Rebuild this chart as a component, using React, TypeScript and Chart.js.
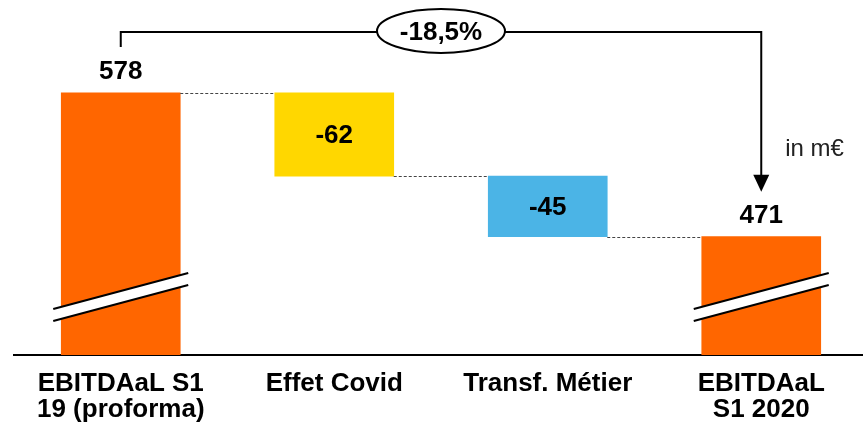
import React, { useEffect, useRef } from 'react';
import { Chart, registerables } from 'chart.js';

Chart.register(...registerables);

// ---- data ----
const categories: string[][] = [
  ['EBITDAaL S1', '19 (proforma)'],
  ['Effet Covid'],
  ['Transf. Métier'],
  ['EBITDAaL', 'S1 2020'],
];
const startValue = 578;
const deltas = [-62, -45];
const endValue = 471;
const axisMin = 383; // broken axis baseline
const axisMax = 647;
const barColors = ['#FF6600', '#FFD700', '#4BB4E6', '#FF6600'];
const unitLabel = 'in m€';

// ---- derived ----
const floating: number[][] = [];
const valueLabels: string[] = [];
const levels: number[] = [];
floating.push([axisMin, startValue]);
valueLabels.push(String(startValue));
levels.push(startValue);
let running = startValue;
deltas.forEach((d) => {
  const next = running + d;
  floating.push([Math.min(running, next), Math.max(running, next)]);
  valueLabels.push((d > 0 ? '+' : '') + String(d));
  running = next;
  levels.push(next);
});
floating.push([axisMin, endValue]);
valueLabels.push(String(endValue));
const pctText =
  (((endValue - startValue) / startValue) * 100).toFixed(1).replace('.', ',') + '%';

const FONT = "'Liberation Sans', Arial, Helvetica, sans-serif";

const overlayPlugin = {
  id: 'waterfallOverlay',
  afterDatasetsDraw(chart: any) {
    const ctx = chart.ctx as CanvasRenderingContext2D;
    const meta = chart.getDatasetMeta(0);
    const bars = meta.data as any[];
    const base = chart.chartArea.bottom;
    ctx.save();

    // dashed connectors
    ctx.strokeStyle = '#444';
    ctx.lineWidth = 1;
    ctx.setLineDash([3, 2]);
    for (let i = 0; i < bars.length - 1; i++) {
      const a = bars[i].getProps(['x', 'width'], true);
      const b = bars[i + 1].getProps(['x', 'width'], true);
      const y = Math.round(chart.scales.y.getPixelForValue(levels[i])) + 0.5;
      ctx.beginPath();
      ctx.moveTo(a.x + a.width / 2, y);
      ctx.lineTo(b.x - b.width / 2, y);
      ctx.stroke();
    }
    ctx.setLineDash([]);

    // axis break marks on total bars
    [0, bars.length - 1].forEach((i) => {
      const p = bars[i].getProps(['x', 'width'], true);
      const L = p.x - p.width / 2 - 8;
      const R = p.x + p.width / 2 + 8;
      ctx.fillStyle = '#fff';
      ctx.beginPath();
      ctx.moveTo(L, base - 46);
      ctx.lineTo(R, base - 82);
      ctx.lineTo(R, base - 70);
      ctx.lineTo(L, base - 34);
      ctx.closePath();
      ctx.fill();
      ctx.strokeStyle = '#000';
      ctx.lineWidth = 2;
      ctx.beginPath();
      ctx.moveTo(L, base - 46);
      ctx.lineTo(R, base - 82);
      ctx.moveTo(L, base - 34);
      ctx.lineTo(R, base - 70);
      ctx.stroke();
    });

    // value labels
    ctx.fillStyle = '#000';
    ctx.font = `bold 26px ${FONT}`;
    ctx.textAlign = 'center';
    ctx.textBaseline = 'middle';
    bars.forEach((bar, i) => {
      const p = bar.getProps(['x', 'y', 'base'], true);
      const top = Math.min(p.y, p.base);
      const bottom = Math.max(p.y, p.base);
      if (i === 0 || i === bars.length - 1) {
        ctx.fillText(valueLabels[i], p.x, top - 21);
      } else {
        ctx.fillText(valueLabels[i], p.x, (top + bottom) / 2 + 1);
      }
    });

    // bracket with arrow
    const first = bars[0].getProps(['x', 'y'], true);
    const last = bars[bars.length - 1].getProps(['x', 'y'], true);
    const by = 32;
    ctx.strokeStyle = '#000';
    ctx.lineWidth = 2;
    ctx.beginPath();
    ctx.moveTo(first.x, 47);
    ctx.lineTo(first.x, by);
    ctx.lineTo(last.x, by);
    ctx.lineTo(last.x, last.y - 60);
    ctx.stroke();
    ctx.fillStyle = '#000';
    ctx.beginPath();
    ctx.moveTo(last.x - 8, last.y - 62);
    ctx.lineTo(last.x + 8, last.y - 62);
    ctx.lineTo(last.x, last.y - 45);
    ctx.closePath();
    ctx.fill();

    // ellipse with percentage
    const cx = (first.x + last.x) / 2;
    ctx.beginPath();
    ctx.ellipse(cx, 31, 64, 22, 0, 0, Math.PI * 2);
    ctx.fillStyle = '#fff';
    ctx.fill();
    ctx.lineWidth = 2;
    ctx.strokeStyle = '#000';
    ctx.stroke();
    ctx.fillStyle = '#000';
    ctx.font = `bold 26px ${FONT}`;
    ctx.textAlign = 'center';
    ctx.textBaseline = 'middle';
    ctx.fillText(pctText, cx, 33);

    // unit label
    ctx.font = `24px ${FONT}`;
    ctx.fillStyle = '#222';
    ctx.textAlign = 'left';
    ctx.fillText(unitLabel, last.x + 24, 149);

    ctx.restore();
  },
};

export default function App() {
  const canvasRef = useRef<HTMLCanvasElement | null>(null);

  useEffect(() => {
    if (!canvasRef.current) return;
    const chart = new Chart(canvasRef.current, {
      type: 'bar',
      data: {
        labels: categories,
        datasets: [
          {
            data: floating as any,
            backgroundColor: barColors,
            borderWidth: 0,
            barThickness: 119,
          },
        ],
      },
      options: {
        responsive: false,
        animation: false,
        devicePixelRatio: 1,
        layout: { padding: { left: 14, right: 0, top: 0, bottom: 0 } },
        plugins: {
          legend: { display: false },
          tooltip: { enabled: false },
        },
        scales: {
          x: {
            grid: { display: false },
            border: { display: true, color: '#000', width: 2 },
            afterFit: (scale: any) => {
              scale.height = 71;
            },
            ticks: {
              color: '#000',
              autoSkip: false,
              maxRotation: 0,
              padding: 8,
              font: { family: FONT, size: 26, weight: 'bold', lineHeight: 1.0 },
            },
          },
          y: {
            display: false,
            min: axisMin,
            max: axisMax,
          },
        },
      },
      plugins: [overlayPlugin],
    });
    return () => chart.destroy();
  }, []);

  return (
    <div
      style={{
        position: 'fixed',
        left: 0,
        top: 0,
        width: 863,
        height: 426,
        overflow: 'hidden',
        background: '#fff',
      }}
    >
      <canvas ref={canvasRef} width={868} height={426} style={{ display: 'block' }} />
    </div>
  );
}
